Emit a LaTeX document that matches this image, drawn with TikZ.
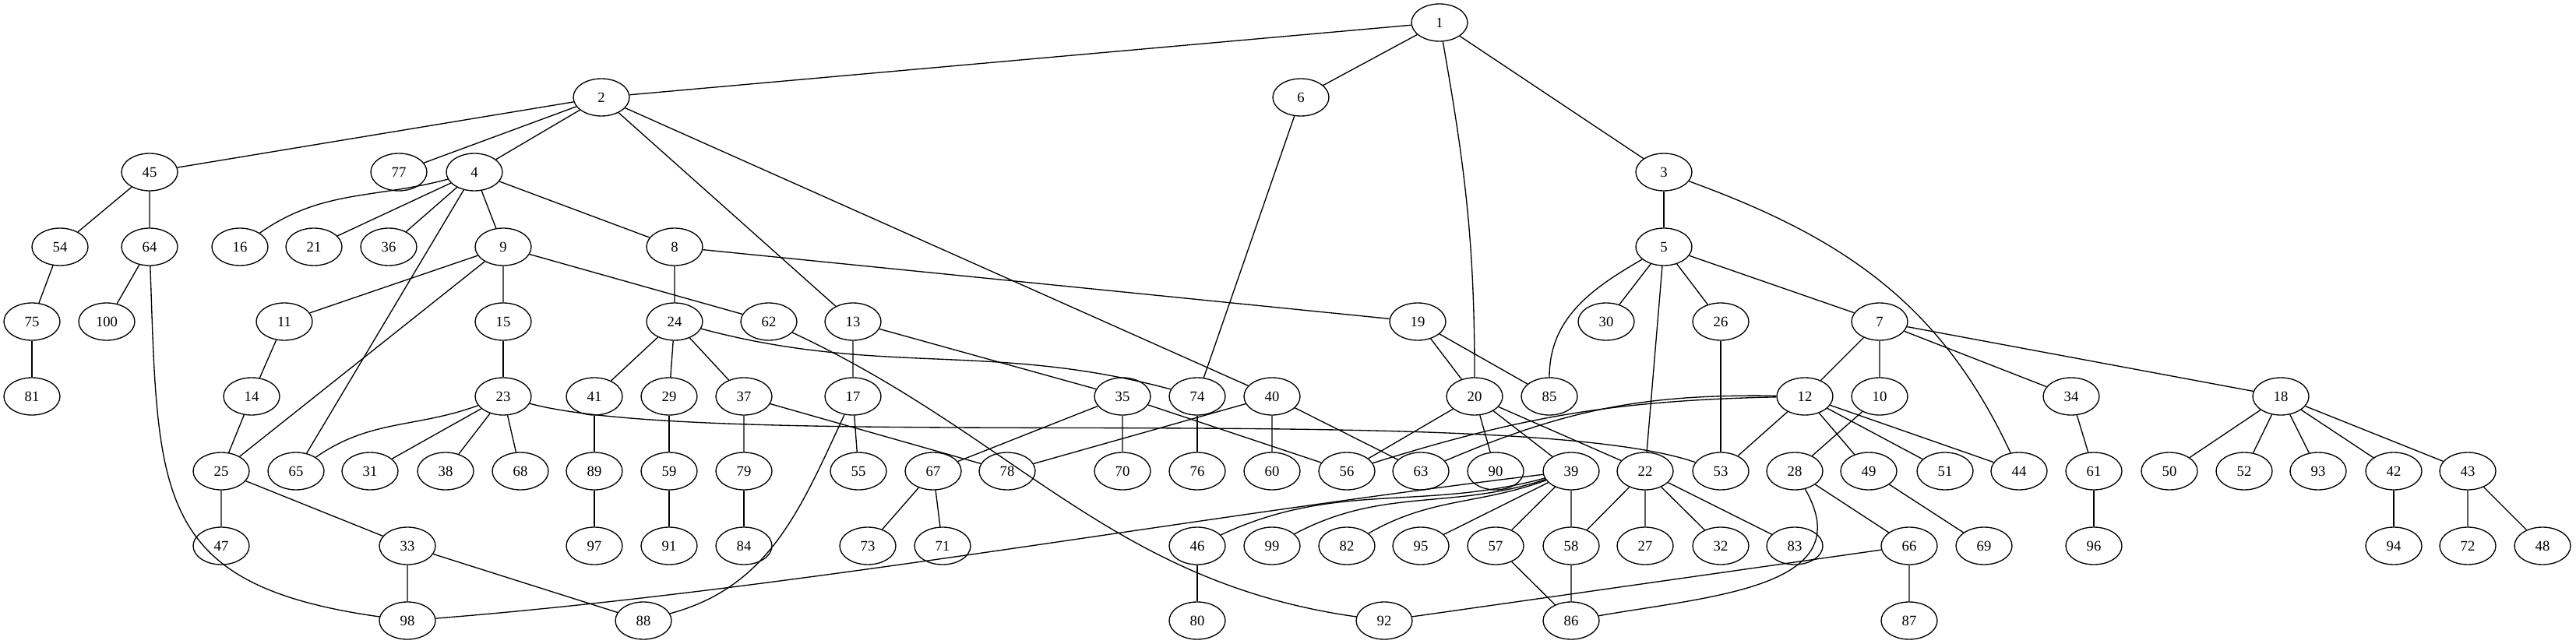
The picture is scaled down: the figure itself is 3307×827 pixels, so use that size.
\documentclass[tikz,border=0pt]{standalone}
\usepackage{fontspec}
\setmainfont{Liberation Serif}
\usetikzlibrary{shapes.geometric}
\begin{document}
\begin{tikzpicture}[x=0.75pt, y=-0.75pt, line width=1pt, main/.style = {draw, ellipse, minimum width=54pt, minimum height=36pt, inner sep=0pt, font=\fontsize{14}{16}\selectfont}]
    \useasboundingbox (0,0) rectangle (3307,827);
    \node[main] (1) at (1848,29) {1};
    \node[main] (2) at (772,125) {2};
    \node[main] (6) at (1670,125) {6};
    \node[main] (45) at (192,221) {45};
    \node[main] (77) at (512,221) {77};
    \node[main] (4) at (609,221) {4};
    \node[main] (3) at (2136,221) {3};
    \node[main] (54) at (77,317) {54};
    \node[main] (64) at (192,317) {64};
    \node[main] (16) at (308,317) {16};
    \node[main] (21) at (403,317) {21};
    \node[main] (36) at (499,317) {36};
    \node[main] (9) at (646,317) {9};
    \node[main] (8) at (866,317) {8};
    \node[main] (5) at (2136,317) {5};
    \node[main] (75) at (41,413) {75};
    \node[main] (100) at (137,413) {100};
    \node[main] (11) at (365,413) {11};
    \node[main] (15) at (646,413) {15};
    \node[main] (24) at (866,413) {24};
    \node[main] (62) at (987,413) {62};
    \node[main] (13) at (1095,413) {13};
    \node[main] (19) at (1820,413) {19};
    \node[main] (30) at (2062,413) {30};
    \node[main] (26) at (2209,413) {26};
    \node[main] (7) at (2413,413) {7};
    \node[main] (81) at (41,509) {81};
    \node[main] (14) at (323,509) {14};
    \node[main] (23) at (646,509) {23};
    \node[main] (41) at (763,509) {41};
    \node[main] (29) at (859,509) {29};
    \node[main] (37) at (955,509) {37};
    \node[main] (17) at (1095,509) {17};
    \node[main] (35) at (1441,509) {35};
    \node[main] (74) at (1537,509) {74};
    \node[main] (40) at (1633,509) {40};
    \node[main] (20) at (1893,509) {20};
    \node[main] (85) at (1989,509) {85};
    \node[main] (12) at (2317,509) {12};
    \node[main] (10) at (2413,509) {10};
    \node[main] (34) at (2659,509) {34};
    \node[main] (18) at (2928,509) {18};
    \node[main] (25) at (284,605) {25};
    \node[main] (65) at (380,605) {65};
    \node[main] (31) at (475,605) {31};
    \node[main] (38) at (572,605) {38};
    \node[main] (68) at (668,605) {68};
    \node[main] (89) at (763,605) {89};
    \node[main] (59) at (859,605) {59};
    \node[main] (79) at (955,605) {79};
    \node[main] (55) at (1102,605) {55};
    \node[main] (67) at (1198,605) {67};
    \node[main] (78) at (1293,605) {78};
    \node[main] (70) at (1441,605) {70};
    \node[main] (76) at (1537,605) {76};
    \node[main] (60) at (1633,605) {60};
    \node[main] (56) at (1729,605) {56};
    \node[main] (63) at (1824,605) {63};
    \node[main] (90) at (1920,605) {90};
    \node[main] (39) at (2017,605) {39};
    \node[main] (22) at (2112,605) {22};
    \node[main] (53) at (2209,605) {53};
    \node[main] (28) at (2304,605) {28};
    \node[main] (49) at (2399,605) {49};
    \node[main] (51) at (2497,605) {51};
    \node[main] (44) at (2592,605) {44};
    \node[main] (61) at (2688,605) {61};
    \node[main] (50) at (2785,605) {50};
    \node[main] (52) at (2881,605) {52};
    \node[main] (93) at (2976,605) {93};
    \node[main] (42) at (3073,605) {42};
    \node[main] (43) at (3168,605) {43};
    \node[main] (47) at (284,701) {47};
    \node[main] (33) at (523,701) {33};
    \node[main] (97) at (763,701) {97};
    \node[main] (91) at (859,701) {91};
    \node[main] (84) at (955,701) {84};
    \node[main] (73) at (1114,701) {73};
    \node[main] (71) at (1210,701) {71};
    \node[main] (46) at (1537,701) {46};
    \node[main] (99) at (1633,701) {99};
    \node[main] (82) at (1729,701) {82};
    \node[main] (95) at (1824,701) {95};
    \node[main] (57) at (1920,701) {57};
    \node[main] (58) at (2017,701) {58};
    \node[main] (27) at (2112,701) {27};
    \node[main] (32) at (2209,701) {32};
    \node[main] (83) at (2304,701) {83};
    \node[main] (66) at (2451,701) {66};
    \node[main] (69) at (2547,701) {69};
    \node[main] (96) at (2688,701) {96};
    \node[main] (94) at (3073,701) {94};
    \node[main] (72) at (3168,701) {72};
    \node[main] (48) at (3264,701) {48};
    \node[main] (98) at (523,797) {98};
    \node[main] (88) at (826,797) {88};
    \node[main] (80) at (1537,797) {80};
    \node[main] (92) at (1777,797) {92};
    \node[main] (86) at (2017,797) {86};
    \node[main] (87) at (2451,797) {87};
    \draw (1) -- (2) (1) -- (6) (1) -- (3);
    \draw (1) to[out=-80, in=90] (20);
    \draw (2) -- (45) (2) -- (77) (2) -- (4) (2) -- (13) (2) -- (40);
    \draw (6) -- (74);
    \draw (45) -- (54) (45) -- (64);
    \draw (4) -- (21) (4) -- (36) (4) -- (9) (4) -- (8) (4) -- (65);
    \draw (4) to[out=195, in=35] (16);
    \draw (3) -- (5);
    \draw (3) to[out=-20, in=115] (44);
    \draw (54) -- (75);
    \draw (64) -- (100);
    \draw (64) to[out=-88, in=172, looseness=1.4] (98);
    \draw (9) -- (11) (9) -- (15) (9) -- (25) (9) -- (62);
    \draw (8) -- (24) (8) -- (19);
    \draw (5) -- (30) (5) -- (26) (5) -- (7) (5) -- (22);
    \draw (5) to[out=210, in=90] (85);
    \draw (75) -- (81);
    \draw (11) -- (14);
    \draw (15) -- (23);
    \draw (24) -- (41) (24) -- (29) (24) -- (37);
    \draw (24) to[out=-15, in=165] (74);
    \draw (62) to[out=-25, in=172] (92);
    \draw (13) -- (17) (13) -- (35);
    \draw (19) -- (20) (19) -- (85);
    \draw (26) -- (53);
    \draw (7) -- (12) (7) -- (10) (7) -- (34) (7) -- (18);
    \draw (14) -- (25);
    \draw (23) -- (31) (23) -- (38) (23) -- (68);
    \draw (23) to[out=200, in=35] (65);
    \draw (23) .. controls +(270,73) and +(-265,-92) .. (53);
    \draw (41) -- (89);
    \draw (29) -- (59);
    \draw (37) -- (79) (37) -- (78);
    \draw (17) -- (55);
    \draw (17) to[out=245, in=15] (88);
    \draw (35) -- (67) (35) -- (70) (35) -- (56);
    \draw (74) -- (76);
    \draw (40) -- (60) (40) -- (63) (40) -- (78);
    \draw (20) -- (56) (20) -- (90) (20) -- (39) (20) -- (22);
    \draw (12) to[bend right=8] (56);
    \draw (12) to[bend right=12] (63);
    \draw (12) -- (53) (12) -- (49) (12) -- (51) (12) -- (44);
    \draw (10) -- (28);
    \draw (34) -- (61);
    \draw (18) -- (50) (18) -- (52) (18) -- (93) (18) -- (42) (18) -- (43);
    \draw (25) -- (47) (25) -- (33);
    \draw (89) -- (97);
    \draw (59) -- (91);
    \draw (79) -- (84);
    \draw (67) -- (73) (67) -- (71);
    \draw (39) .. controls +(-500,60) and +(500,-40) .. (98);
    \draw (39) to[out=195, in=25] (46);
    \draw (39) to[out=198, in=28] (99);
    \draw (39) to[out=200, in=30] (82);
    \draw (39) -- (95) (39) -- (57) (39) -- (58);
    \draw (22) -- (58) (22) -- (27) (22) -- (32) (22) -- (83);
    \draw (28) -- (66);
    \draw (28) to[out=-60, in=10, looseness=1.2] (86);
    \draw (49) -- (69);
    \draw (61) -- (96);
    \draw (42) -- (94);
    \draw (43) -- (72) (43) -- (48);
    \draw (33) -- (98) (33) -- (88);
    \draw (46) -- (80);
    \draw (57) -- (86) (58) -- (86);
    \draw (66) -- (92) (66) -- (87);
\end{tikzpicture}
\end{document}
